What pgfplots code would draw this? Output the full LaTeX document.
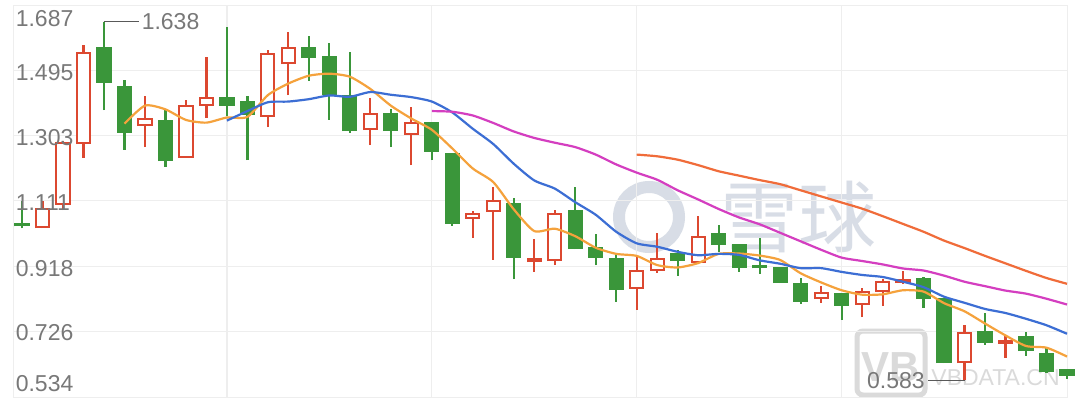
\documentclass[border=0pt]{standalone}
\usepackage{fontspec}
\setmainfont{Liberation Sans}
\newfontfamily\cjk{Noto Sans CJK SC}
\usepackage{pgfplots}
\usepackage{pgfplotstable}
\pgfplotsset{compat=1.18}
\definecolor{cred}{RGB}{220,72,48}
\definecolor{cgreen}{RGB}{58,150,58}
\definecolor{cma5}{RGB}{245,162,60}
\definecolor{cma10}{RGB}{60,110,212}
\definecolor{cma20}{RGB}{212,62,192}
\definecolor{cma30}{RGB}{240,108,58}
\definecolor{cgrid}{RGB}{238,238,238}
\definecolor{clab}{RGB}{120,120,120}
\definecolor{cwm}{RGB}{216,221,230}
\definecolor{cwm2}{RGB}{218,218,218}

% hollow (rising) candles
\pgfplotstableread{
i o c h l
1 1.031 1.090 1.111 1.031
2 1.099 1.284 1.287 1.084
3 1.278 1.549 1.569 1.237
6 1.331 1.355 1.419 1.269
8 1.237 1.393 1.408 1.237
9 1.390 1.416 1.534 1.355
12 1.358 1.546 1.555 1.328
13 1.513 1.564 1.608 1.422
17 1.319 1.369 1.413 1.275
19 1.305 1.343 1.387 1.216
22 1.058 1.075 1.080 1.002
23 1.078 1.113 1.152 0.937
26 0.934 1.075 1.084 0.922
30 0.852 0.908 0.946 0.790
31 0.905 0.943 1.016 0.899
33 0.928 1.008 1.066 0.925
39 0.822 0.843 0.861 0.811
41 0.805 0.846 0.855 0.769
42 0.843 0.875 0.880 0.802
46 0.634 0.725 0.746 0.583
}\redtab

% rising candles with a very small body
\pgfplotstableread{
i o c h l
25 0.931 0.943 1.000 0.902
43 0.869 0.880 0.905 0.866
48 0.691 0.703 0.716 0.649
}\reddoji

% falling candles
\pgfplotstableread{
i o c h l
0 1.046 1.036 1.111 1.030
4 1.564 1.458 1.638 1.378
5 1.449 1.311 1.466 1.261
7 1.349 1.228 1.378 1.211
10 1.416 1.390 1.622 1.361
11 1.405 1.364 1.419 1.231
14 1.564 1.531 1.596 1.464
15 1.537 1.422 1.575 1.349
16 1.422 1.316 1.549 1.311
18 1.369 1.316 1.381 1.269
20 1.343 1.255 1.343 1.231
21 1.252 1.043 1.252 1.037
24 1.105 0.943 1.119 0.881
27 1.084 0.969 1.152 0.969
28 0.975 0.943 1.014 0.922
29 0.943 0.849 0.952 0.814
32 0.958 0.934 0.966 0.890
34 1.016 0.981 1.040 0.961
35 0.984 0.914 0.984 0.902
36 0.922 0.912 1.002 0.896
37 0.916 0.869 0.916 0.869
38 0.869 0.814 0.884 0.808
40 0.840 0.802 0.840 0.761
44 0.884 0.822 0.887 0.796
45 0.825 0.634 0.825 0.634
47 0.728 0.693 0.781 0.687
49 0.713 0.669 0.725 0.655
50 0.664 0.608 0.678 0.605
51 0.616 0.596 0.616 0.587
}\greentab

\pgfplotsset{
  candle/.style 2 args={forget plot, draw=none, mark=none,
    error bars/.cd, y dir=plus, y explicit, error mark=none,
    error bar style={line width=#1, draw=#2, solid}},
}

\begin{document}
\begin{tikzpicture}
\path[use as bounding box, fill=white] (-6.5pt,-2.5pt) rectangle (533.5pt,198.5pt);
% watermarks
\node[text=cwm, font=\cjk\fontsize{39}{39}\selectfont] at (392.5pt,90pt) {雪球};
\draw[cwm, line width=6pt] (318pt,90pt) circle (15pt);
\draw[cwm2, line width=2.5pt, rounded corners=3pt] (422pt,1pt) rectangle (456pt,33pt);
\node[text=cwm2, font=\bfseries\fontsize{21}{21}\selectfont] at (439pt,15pt) {VB};
\node[text=cwm2, font=\fontsize{11.5}{12}\selectfont, anchor=west, inner sep=0pt] at (459pt,9.5pt) {VBDATA.CN};
\begin{axis}[
  at={(0pt,0pt)}, anchor=south west,
  scale only axis, width=527pt, height=196pt,
  xmin=-0.44, xmax=51, ymin=0.534, ymax=1.687,
  axis line style={draw=cgrid},
  xtick={10,20,30,40}, ytick={0.726,0.918,1.111,1.303,1.495},
  xticklabels={}, yticklabels={},
  major tick length=0pt,
  grid=major, grid style={draw=cgrid, line width=0.6pt},
  clip=false,
]
% wicks
\addplot[candle={1.1pt}{cred}]
  table[x=i, y=l, y error plus expr=\thisrow{h}-\thisrow{l}] {\redtab};
\addplot[candle={1.1pt}{cred}]
  table[x=i, y=l, y error plus expr=\thisrow{h}-\thisrow{l}] {\reddoji};
\addplot[candle={1.1pt}{cgreen}]
  table[x=i, y=l, y error plus expr=\thisrow{h}-\thisrow{l}] {\greentab};
% bodies
\addplot[candle={7.6pt}{cgreen}]
  table[x=i, y=c, y error plus expr=\thisrow{o}-\thisrow{c}] {\greentab};
\addplot[candle={7.6pt}{cred}]
  table[x=i, y=o, y error plus expr=\thisrow{c}-\thisrow{o}] {\reddoji};
\addplot[candle={7.6pt}{cred}]
  table[x=i, y=o, y error plus expr=\thisrow{c}-\thisrow{o}] {\redtab};
\addplot[candle={5.6pt}{white}]
  table[x=i, y expr=\thisrow{o}+0.0059, y error plus expr=\thisrow{c}-\thisrow{o}-0.0118] {\redtab};
% moving averages
\addplot[cma5, line width=1.1pt, smooth, tension=0.4] coordinates {
(5,1.338)(6,1.391)(7,1.380)(8,1.349)(9,1.341)(10,1.356)(11,1.358)(12,1.422)(13,1.456)(14,1.479)
(15,1.485)(16,1.476)(17,1.440)(18,1.391)(19,1.353)(20,1.320)(21,1.265)(22,1.206)(23,1.166)(24,1.086)
(25,1.022)(26,1.029)(27,1.007)(28,0.973)(29,0.955)(30,0.949)(31,0.922)(32,0.915)(33,0.928)(34,0.955)
(35,0.956)(36,0.950)(37,0.937)(38,0.898)(39,0.871)(40,0.848)(41,0.835)(42,0.836)(43,0.848)(44,0.844)
(45,0.810)(46,0.786)(47,0.750)(48,0.715)(49,0.684)(50,0.679)(51,0.653)};
\addplot[cma10, line width=1.1pt, smooth, tension=0.4] coordinates {
(10,1.347)(11,1.375)(12,1.401)(13,1.403)(14,1.410)(15,1.421)(16,1.417)(17,1.431)(18,1.423)(19,1.416)
(20,1.403)(21,1.371)(22,1.323)(23,1.278)(24,1.220)(25,1.171)(26,1.147)(27,1.107)(28,1.070)(29,1.020)
(30,0.986)(31,0.976)(32,0.961)(33,0.951)(34,0.955)(35,0.952)(36,0.936)(37,0.926)(38,0.913)(39,0.913)
(40,0.902)(41,0.893)(42,0.887)(43,0.873)(44,0.857)(45,0.829)(46,0.811)(47,0.793)(48,0.781)(49,0.764)
(50,0.745)(51,0.720)};
\addplot[cma20, line width=1.1pt, smooth, tension=0.4] coordinates {
(20,1.375)(21,1.373)(22,1.362)(23,1.340)(24,1.315)(25,1.296)(26,1.282)(27,1.269)(28,1.247)(29,1.218)
(30,1.194)(31,1.173)(32,1.142)(33,1.115)(34,1.087)(35,1.062)(36,1.042)(37,1.017)(38,0.992)(39,0.967)
(40,0.944)(41,0.934)(42,0.924)(43,0.912)(44,0.906)(45,0.891)(46,0.873)(47,0.860)(48,0.847)(49,0.838)
(50,0.823)(51,0.806)};
\addplot[cma30, line width=1.1pt, smooth, tension=0.4] coordinates {
(30,1.247)(31,1.242)(32,1.232)(33,1.216)(34,1.198)(35,1.185)(36,1.172)(37,1.160)(38,1.142)(39,1.124)
(40,1.106)(41,1.088)(42,1.066)(43,1.043)(44,1.020)(45,0.994)(46,0.972)(47,0.949)(48,0.927)(49,0.905)
(50,0.884)(51,0.867)};
% y labels
\begin{scope}[every node/.style={text=clab, font=\fontsize{11.5}{12}\selectfont, inner sep=0pt}]
\node[anchor=north west] at (axis cs:-0.44,1.687) [xshift=1.2pt, yshift=-2.6pt] {1.687};
\node[anchor=west] at (axis cs:-0.44,1.495) [xshift=1.2pt, yshift=-1pt] {1.495};
\node[anchor=west] at (axis cs:-0.44,1.303) [xshift=1.2pt, yshift=-1pt] {1.303};
\node[anchor=west] at (axis cs:-0.44,1.111) [xshift=1.2pt, yshift=-1pt] {1.111};
\node[anchor=west] at (axis cs:-0.44,0.918) [xshift=1.2pt, yshift=-1pt] {0.918};
\node[anchor=west] at (axis cs:-0.44,0.726) [xshift=1.2pt, yshift=-0.5pt] {0.726};
\node[anchor=south west] at (axis cs:-0.44,0.534) [xshift=1.2pt, yshift=2.4pt] {0.534};
\end{scope}
% extreme value markers
\draw[black!65, line width=0.8pt] (axis cs:4,1.638) -- ++(17.5pt,0pt)
  node[anchor=west, inner sep=1pt, text=clab, font=\fontsize{11.5}{12}\selectfont] {1.638};
\draw[black!65, line width=0.8pt] (axis cs:46,0.583) -- ++(-18.5pt,0pt)
  node[anchor=east, inner sep=1pt, text=clab, font=\fontsize{11.5}{12}\selectfont] {0.583};
\end{axis}
\end{tikzpicture}
\end{document}
